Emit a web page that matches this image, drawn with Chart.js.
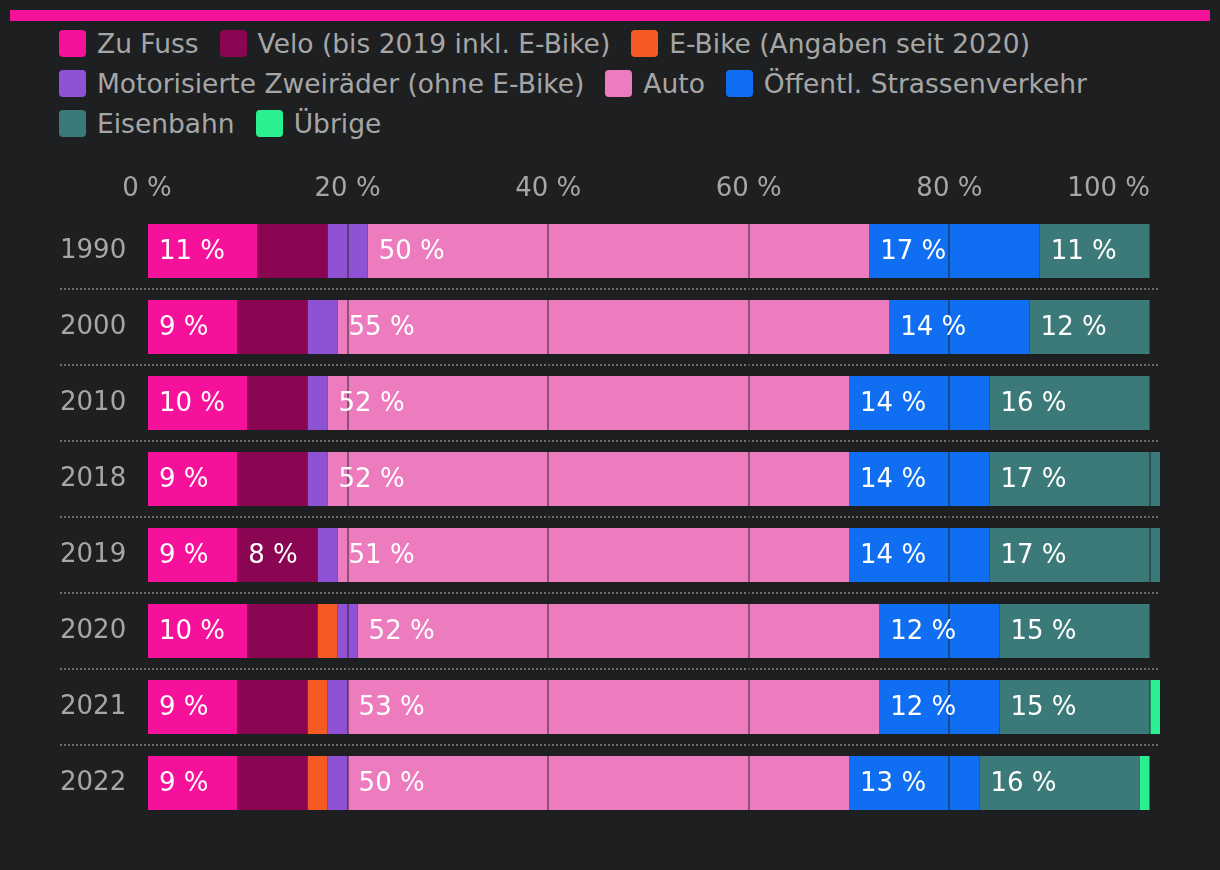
<!DOCTYPE html>
<html>
<head>
<meta charset="utf-8">
<script src="https://cdn.jsdelivr.net/npm/chart.js@4"></script>
<style>
  html, body { margin: 0; padding: 0; background: #1e1f21; }
  body { width: 1220px; height: 870px; position: relative; overflow: hidden; font-family: "DejaVu Sans", sans-serif; }
  #topline { position: absolute; left: 10px; top: 10px; width: 1200px; height: 11px; background: #f5119a; }
  #legend { position: absolute; left: 59px; top: 30px; width: 1105px; display: flex; flex-wrap: wrap; column-gap: 21px; row-gap: 13px; }
  .item { display: flex; align-items: center; height: 27px; }
  .box { width: 27px; height: 27px; border-radius: 4px; margin-right: 11px; }
  .txt { font-size: 26.5px; line-height: 27px; color: #a6a6a6; white-space: nowrap; }
  #wrap { position: absolute; left: 0; top: 0; width: 1220px; height: 870px; }
</style>
</head>
<body>
<div id="topline"></div>
<div id="legend"></div>
<div id="wrap"><canvas id="chart" width="1220" height="870"></canvas></div>
<script>
const years = ["1990", "2000", "2010", "2018", "2019", "2020", "2021", "2022"];
const zuFuss = [11, 9, 10, 9, 9, 10, 9, 9];
const velo = [7, 7, 6, 7, 8, 7, 7, 7];
const eBike = [0, 0, 0, 0, 0, 2, 2, 2];
const moto = [4, 3, 2, 2, 2, 2, 2, 2];
const auto = [50, 55, 52, 52, 51, 52, 53, 50];
const oev = [17, 14, 14, 14, 14, 12, 12, 13];
const eisenbahn = [11, 12, 16, 17, 17, 15, 15, 16];
const uebrige = [0, 0, 0, 0, 0, 0, 1, 1];
const xTicks = [0, 20, 40, 60, 80, 100];

const seriesNames = ["Zu Fuss", "Velo (bis 2019 inkl. E-Bike)", "E-Bike (Angaben seit 2020)", "Motorisierte Zweiräder (ohne E-Bike)", "Auto", "Öffentl. Strassenverkehr", "Eisenbahn", "Übrige"];
const seriesData = [zuFuss, velo, eBike, moto, auto, oev, eisenbahn, uebrige];
const colors = ["#f5119a", "#8a0552", "#f55a24", "#8f52d4", "#ec7cbe", "#106ef2", "#3c7a79", "#2bf08f"];

const FONT = "\"DejaVu Sans\", sans-serif";
const GRAY = "#a6a6a6";

// legend as html
const legendEl = document.getElementById("legend");
seriesNames.forEach((name, i) => {
    const div = document.createElement("div");
    div.className = "item";
    div.innerHTML = `<span class="box" style="background:${colors[i]}"></span><span class="txt">${name}</span>`;
    legendEl.appendChild(div);
});

const separators = {
    id: "separators",
    beforeDatasetsDraw(chart) {
        const ctx = chart.ctx;
        const y = chart.scales.y;
        const area = chart.chartArea;
        ctx.save();
        ctx.strokeStyle = "#6e6e6e";
        ctx.lineWidth = 2;
        ctx.setLineDash([2, 2]);
        for (let i = 1; i < years.length; i++) {
            const py = Math.round((y.getPixelForValue(i - 1) + y.getPixelForValue(i)) / 2);
            ctx.beginPath();
            ctx.moveTo(y.left, py);
            ctx.lineTo(area.right, py);
            ctx.stroke();
        }
        ctx.restore();
    }
};

const labels = {
    id: "labels",
    afterDraw(chart) {
        const ctx = chart.ctx;
        const x = chart.scales.x;
        ctx.save();
        ctx.font = "26px " + FONT;
        ctx.textBaseline = "middle";
        // x tick labels
        ctx.fillStyle = GRAY;
        xTicks.forEach((v, i) => {
            ctx.textAlign = i === xTicks.length - 1 ? "right" : "center";
            ctx.fillText(v + " %", x.getPixelForValue(v), chart.chartArea.top - 24);
        });
        // values in the bars
        ctx.fillStyle = "#ffffff";
        ctx.textAlign = "left";
        chart.data.datasets.forEach((ds, di) => {
            const meta = chart.getDatasetMeta(di);
            meta.data.forEach((bar, j) => {
                const v = ds.data[j];
                if (v < 8) return;
                const p = bar.getProps(["x", "y", "base"], true);
                ctx.fillText(v + " %", p.base + 11, p.y + 1);
            });
        });
        ctx.restore();
    }
};

new Chart(document.getElementById("chart"), {
    type: "bar",
    data: {
        labels: years,
        datasets: seriesNames.map((name, i) => ({
            label: name,
            data: seriesData[i],
            backgroundColor: colors[i],
            borderWidth: 0,
            barPercentage: 54 / 76,
            categoryPercentage: 1
        }))
    },
    options: {
        indexAxis: "y",
        responsive: false,
        animation: false,
        layout: { padding: { top: 213, left: 60, right: 60, bottom: 49 } },
        plugins: {
            legend: { display: false },
            tooltip: { enabled: false }
        },
        scales: {
            x: {
                position: "top",
                stacked: true,
                min: 0,
                max: 101,
                afterBuildTicks: (scale) => { scale.ticks = xTicks.map(v => ({ value: v })); },
                afterFit: (scale) => { scale.height = 0; },
                ticks: { display: false },
                grid: { color: "rgba(30,31,33,0.45)", lineWidth: 2, drawTicks: false, z: 1 },
                border: { display: false }
            },
            y: {
                stacked: true,
                afterFit: (scale) => { scale.width = 87; },
                ticks: { color: GRAY, font: { family: FONT, size: 26 }, crossAlign: "far", padding: 0 },
                grid: { display: false },
                border: { display: false }
            }
        }
    },
    plugins: [separators, labels]
});
</script>
</body>
</html>
